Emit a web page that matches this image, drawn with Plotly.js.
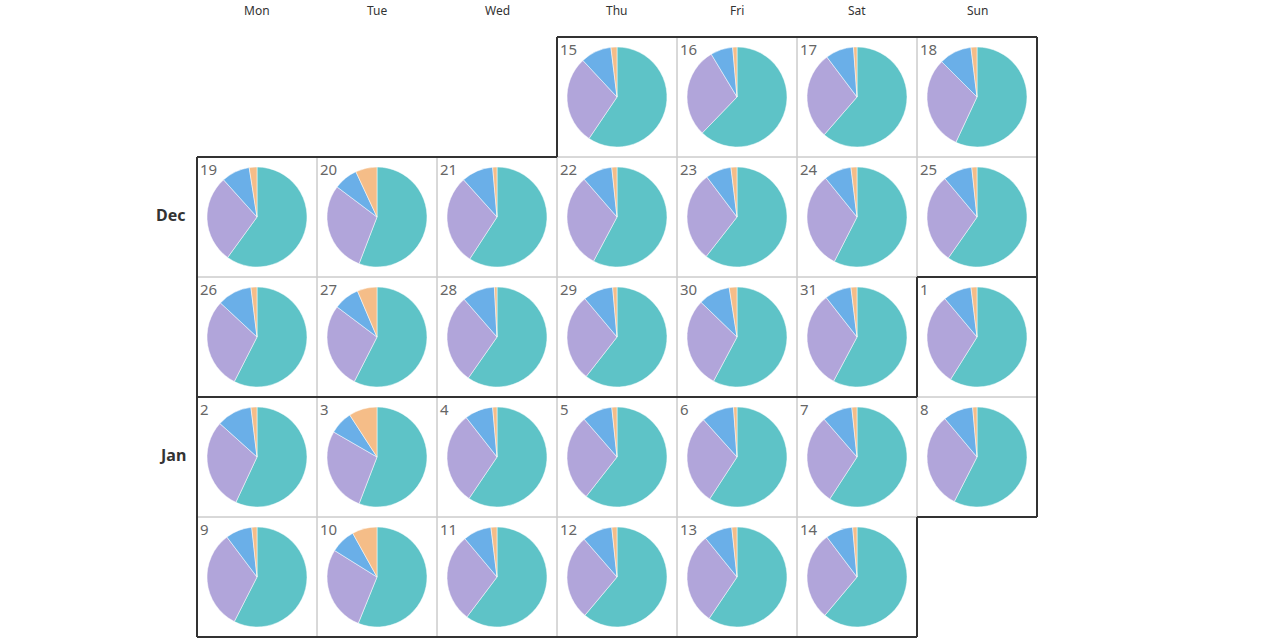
<!DOCTYPE html>
<html><head><meta charset="utf-8">
<script src="https://cdn.plot.ly/plotly-3.0.1.min.js"></script>
<style>html,body{margin:0;padding:0;background:#fff}#chart{width:1280px;height:640px}</style>
</head><body><div id="chart"></div>
<script>
// Data
const dates = ["2016-12-15","2016-12-16","2016-12-17","2016-12-18","2016-12-19","2016-12-20","2016-12-21","2016-12-22","2016-12-23","2016-12-24","2016-12-25","2016-12-26","2016-12-27","2016-12-28","2016-12-29","2016-12-30","2016-12-31","2017-01-01","2017-01-02","2017-01-03","2017-01-04","2017-01-05","2017-01-06","2017-01-07","2017-01-08","2017-01-09","2017-01-10","2017-01-11","2017-01-12","2017-01-13","2017-01-14"];
const seriesNames = ["A","B","C","D"];
const seriesA = [214,224,221,205,216,201,213,208,218,207,215,207,207,215,218,208,208,212,205,201,214,218,213,213,207,207,202,217,220,214,220];
const seriesB = [103,105,102,110,102,106,105,111,105,114,105,106,100,104,102,106,114,108,107,99,108,101,105,106,113,116,100,103,99,107,103];
const seriesC = [36,26,33,38,33,28,37,35,30,32,34,40,30,38,35,37,31,33,41,27,33,35,38,35,35,31,29,33,35,33,32];
const seriesD = [7,5,4,7,9,25,5,6,7,7,6,7,23,3,5,9,7,7,7,33,5,6,4,6,5,6,29,7,6,6,5];
const weekdayLabels = ["Mon","Tue","Wed","Thu","Fri","Sat","Sun"];
const monthLabels = ["Dec","Jan"];
const colors = ["#5ec3c7","#b1a5da","#6aafe8","#f5bd88"];

const W=1280,H=640, gridLeft=197, gridTop=37, cell=120;
const px = x => x/W, py = y => 1 - y/H;
const startMonday = new Date(Date.UTC(2016,11,12));
function pos(ds){
  const [y,m,d]=ds.split("-").map(Number);
  const dt=new Date(Date.UTC(y,m-1,d));
  const col=(dt.getUTCDay()+6)%7;
  const row=Math.floor((dt-startMonday)/86400000/7);
  return {col,row,day:d,month:m};
}
const traces=[], annotations=[], shapes=[];
const cellsByMonth={};
dates.forEach((ds,i)=>{
  const p=pos(ds);
  const x0=gridLeft+p.col*cell, y0=gridTop+p.row*cell;
  (cellsByMonth[p.month]=cellsByMonth[p.month]||[]).push(p);
  shapes.push({type:"rect",xref:"paper",yref:"paper",x0:px(x0),x1:px(x0+cell),y0:py(y0+cell),y1:py(y0),line:{color:"#cccccc",width:1},layer:"below"});
  traces.push({type:"pie",labels:seriesNames,values:[seriesA[i],seriesB[i],seriesC[i],seriesD[i]],
    sort:false,direction:"clockwise",rotation:0,textinfo:"none",hoverinfo:"label+value",
    marker:{colors:colors,line:{color:"#ffffff",width:0.5}},
    domain:{x:[px(x0+10),px(x0+110)],y:[py(y0+110),py(y0+10)]},showlegend:false});
  annotations.push({xref:"paper",yref:"paper",x:px(x0+1),y:py(y0),xanchor:"left",yanchor:"top",text:String(p.day),showarrow:false,font:{family:"Noto Sans, sans-serif",size:15,color:"#666"}});
});
// month outlines
function outline(cells){
  const set=new Set(cells.map(c=>c.row+","+c.col));
  const segs=[];
  cells.forEach(c=>{
    const x0=gridLeft+c.col*cell,y0=gridTop+c.row*cell,x1=x0+cell,y1=y0+cell;
    if(!set.has((c.row-1)+","+c.col)) segs.push([x0,y0,x1,y0]);
    if(!set.has((c.row+1)+","+c.col)) segs.push([x0,y1,x1,y1]);
    if(!set.has(c.row+","+(c.col-1))) segs.push([x0,y0,x0,y1]);
    if(!set.has(c.row+","+(c.col+1))) segs.push([x1,y0,x1,y1]);
  });
  segs.forEach(s=>shapes.push({type:"line",xref:"paper",yref:"paper",x0:px(s[0]),y0:py(s[1]),x1:px(s[2]),y1:py(s[3]),line:{color:"#333",width:2}}));
}
outline(cellsByMonth[12]); outline(cellsByMonth[1]);
weekdayLabels.forEach((w,i)=>{
  annotations.push({xref:"paper",yref:"paper",x:px(gridLeft+i*cell+cell/2),y:py(10),xanchor:"center",yanchor:"middle",text:w,showarrow:false,font:{family:"Noto Sans, sans-serif",size:12,color:"#333"}});
});
const monthY=[215,455];
monthLabels.forEach((m,i)=>{
  annotations.push({xref:"paper",yref:"paper",x:px(188),y:py(monthY[i]),xanchor:"right",yanchor:"middle",text:"<b>"+m+"</b>",showarrow:false,font:{family:"Noto Sans, sans-serif",size:16,color:"#333"}});
});
Plotly.newPlot("chart",traces,{width:W,height:H,margin:{l:0,r:0,t:0,b:0},paper_bgcolor:"#fff",plot_bgcolor:"#fff",shapes,annotations,showlegend:false},{displayModeBar:false,staticPlot:true});
</script></body></html>
